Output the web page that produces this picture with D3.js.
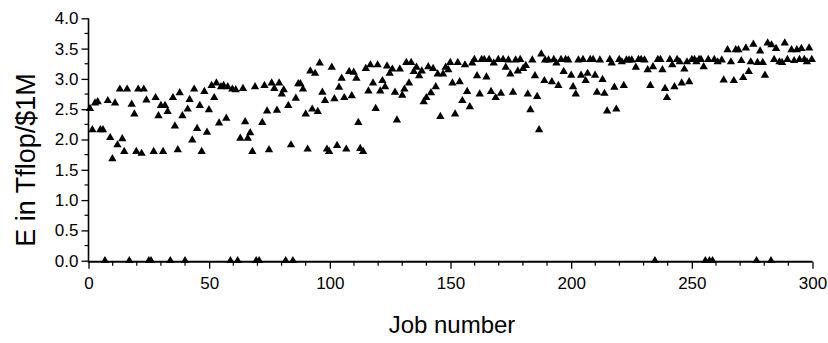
<!DOCTYPE html>
<html>
<head>
<meta charset="utf-8">
<script src="https://cdn.jsdelivr.net/npm/d3@7"></script>
<style>
  html, body { margin: 0; padding: 0; background: #fff; }
  svg { display: block; }
  text { font-family: "Liberation Sans", Arial, Helvetica, sans-serif; fill: #000; }
</style>
</head>
<body>
<svg id="chart" width="828" height="343"></svg>
<script>
// ---- data ----
const jobNumbers = [
  0.6,1.6,2.7,3.8,4.9,6.0,6.8,8.0,9.0,9.9,11.0,12.0,13.0,14.0,14.8,16.0,16.9,17.9,19.0,19.8,
  20.6,22.0,22.9,24.0,25.0,25.9,27.0,27.8,29.0,30.0,30.9,31.7,32.8,33.9,35.0,35.8,37.0,37.8,38.9,40.0,
  41.1,41.9,43.0,43.8,45.0,46.1,46.9,48.0,49.1,49.9,51.0,52.1,53.0,54.1,54.9,56.0,57.1,57.7,58.8,59.6,
  61.0,61.8,62.9,64.0,64.9,66.0,67.0,67.9,69.0,69.5,70.7,72.0,72.9,74.0,74.8,75.9,77.0,78.1,79.0,80.1,
  80.9,81.7,82.8,83.9,84.7,85.9,86.9,87.8,88.9,90.0,90.8,91.9,92.7,93.9,95.0,95.8,96.9,98.0,98.8,99.7,
  100.8,101.9,103.0,103.8,104.9,106.0,106.8,108.0,109.1,109.9,111.0,111.8,112.6,113.8,114.9,116.0,116.8,117.9,119.0,119.8,
  120.9,121.8,122.9,123.7,124.8,125.9,127.0,127.8,129.0,130.0,130.9,131.7,132.8,133.7,134.8,135.9,137.0,138.1,138.9,140.0,
  140.8,141.9,142.8,143.9,144.7,145.8,146.9,148.0,149.1,149.9,150.8,151.9,153.0,153.8,154.9,156.0,156.9,158.0,159.0,159.9,
  161.0,162.1,162.9,164.0,164.9,166.0,166.8,167.9,168.7,169.8,170.9,171.8,172.9,174.0,174.8,175.9,177.0,177.9,178.9,180.1,
  181.2,182.0,183.1,183.9,185.0,185.9,186.7,187.6,188.9,189.2,190.6,192.0,192.8,193.9,194.7,195.8,196.9,197.7,198.8,200.0,
  200.8,201.9,203.0,204.1,204.9,206.0,206.8,207.9,209.1,209.9,210.7,211.9,213.0,213.8,214.9,216.0,216.8,217.9,218.7,219.9,
  221.0,221.8,222.9,224.0,225.1,226.8,227.9,229.0,230.4,231.7,232.8,233.9,234.7,235.9,237.0,237.8,238.9,239.7,240.9,241.9,
  242.8,243.9,245.0,245.8,246.9,248.0,248.9,250.0,251.1,251.9,253.0,253.8,254.9,255.6,256.8,257.3,258.6,259.3,260.7,262.4,
  263.2,264.8,266.2,267.4,268.2,269.3,270.5,271.3,272.4,273.6,274.4,275.5,276.8,277.2,278.3,279.4,280.3,281.4,282.8,283.0,
  284.1,284.9,286.3,287.4,288.5,289.6,291.3,292.4,293.5,294.6,295.4,296.6,297.7,298.6,299.7
];
const efficiency = [
  2.51,2.16,2.60,2.62,2.16,2.16,0,2.64,2.03,1.68,2.60,1.91,2.83,2.01,1.80,2.83,0,2.58,2.42,1.80,
  2.83,1.77,2.83,2.65,0,0,1.80,2.69,2.39,2.56,1.80,2.56,2.46,0,2.69,2.22,1.83,2.77,2.39,0,
  2.50,2.66,1.99,2.83,2.18,2.56,1.80,2.79,2.12,2.49,2.89,2.69,2.93,2.27,2.87,2.89,2.35,2.87,0,2.83,
  2.82,0,2.02,2.84,2.29,2.02,2.11,1.80,2.87,0,0,2.28,2.89,2.47,1.83,2.93,2.84,2.48,2.93,2.75,
  2.82,0,2.56,1.91,0,2.68,2.92,2.92,2.83,2.42,1.84,3.13,2.50,3.09,2.46,3.26,2.78,2.64,1.84,1.80,
  3.19,2.67,1.90,2.86,3.01,2.69,1.84,3.12,2.72,3.11,3.01,2.28,1.85,1.80,3.17,2.80,3.23,2.93,2.51,3.23,
  2.80,2.97,2.87,3.21,3.09,3.16,2.78,2.32,3.16,2.73,2.83,3.27,2.93,3.27,3.12,3.19,3.05,3.13,2.62,2.69,
  3.20,2.77,3.17,2.87,3.08,2.38,3.08,3.19,3.15,3.27,2.93,2.42,3.27,2.95,2.64,3.23,2.79,2.54,3.26,3.32,
  3.05,2.75,3.32,3.32,3.03,3.32,2.79,3.26,2.69,3.32,2.76,3.32,3.19,3.31,3.08,2.78,3.31,3.13,3.32,3.17,
  3.22,2.75,2.49,3.31,3.05,2.71,2.16,3.41,2.97,3.31,3.31,2.95,3.32,3.26,2.89,3.32,3.12,3.32,3.31,3.06,
  2.87,2.75,3.31,3.06,3.32,2.97,3.09,3.32,3.32,3.06,2.78,3.31,2.99,2.76,2.47,3.32,3.26,2.86,2.50,3.32,
  3.28,2.89,3.31,3.31,3.31,3.19,3.32,3.32,3.31,3.15,2.89,3.20,0,3.32,3.32,3.15,2.84,2.69,3.32,3.23,
  2.87,3.32,3.28,2.93,3.16,3.28,2.95,3.32,3.32,3.28,3.32,3.32,3.20,0,3.32,0,0,3.32,3.28,3.31,
  2.98,3.48,3.28,2.97,3.48,3.48,3.30,3.02,3.51,3.12,3.28,3.57,0,3.27,3.46,3.27,3.06,3.59,0,3.56,
  3.32,3.50,3.28,3.27,3.59,3.32,3.48,3.30,3.48,3.32,3.50,3.32,3.28,3.51,3.32
];
const xTickValues = [0, 50, 100, 150, 200, 250, 300];
const yTickValues = [0.0, 0.5, 1.0, 1.5, 2.0, 2.5, 3.0, 3.5, 4.0];
const xLabel = "Job number";
const yLabel = "E in Tflop/$1M";

// ---- drawing ----
const svg = d3.select("#chart");
const x = d3.scaleLinear().domain([0, 300]).range([88.5, 812.5]);
const y = d3.scaleLinear().domain([0, 4]).range([260.7, 18.3]);

const points = jobNumbers.map((j, i) => ({ j, e: efficiency[i] }));

const xMinor = d3.range(0, 301, 10).filter(v => v % 50 !== 0);
const yMinor = d3.range(0.25, 4.0, 0.5);

const gx = svg.append("g").attr("transform", `translate(0,${y(0) + 1})`);
gx.call(d3.axisBottom(x).tickValues(xTickValues).tickFormat(d3.format("d")).tickSize(7).tickPadding(8));
gx.append("g").selectAll("line").data(xMinor).join("line")
  .attr("x1", d => x(d)).attr("x2", d => x(d)).attr("y1", 0).attr("y2", 4)
  .attr("stroke", "#000").attr("stroke-width", 1.2);
gx.select(".domain").attr("d", `M${x(0)},0H${x(300)}`).attr("stroke-width", 2);
gx.selectAll(".tick line").attr("stroke-width", 1.3);
gx.selectAll(".tick text").attr("font-size", 17).attr("font-family", "Liberation Sans, Arial, sans-serif");

const gy = svg.append("g").attr("transform", `translate(${x(0)},0)`);
gy.call(d3.axisLeft(y).tickValues(yTickValues).tickFormat(d3.format(".1f")).tickSize(7).tickPadding(3));
gy.append("g").selectAll("line").data(yMinor).join("line")
  .attr("x1", 0).attr("x2", -4).attr("y1", d => y(d)).attr("y2", d => y(d))
  .attr("stroke", "#000").attr("stroke-width", 1.2);
gy.select(".domain").attr("d", `M0,${y(4)}V${y(0) + 2}`).attr("stroke-width", 1.6);
gy.selectAll(".tick line").attr("stroke-width", 1.3);
gy.selectAll(".tick text").attr("font-size", 17).attr("font-family", "Liberation Sans, Arial, sans-serif");

// points
const tri = d3.symbol().type(d3.symbolTriangle).size(30);
svg.append("g").selectAll("path").data(points).join("path")
  .attr("d", tri)
  .attr("transform", d => `translate(${x(d.j)},${y(d.e)})`)
  .attr("fill", "#000");

// axis titles
svg.append("text")
  .attr("x", 452).attr("y", 333)
  .attr("text-anchor", "middle")
  .attr("font-size", 24)
  .text(xLabel);

svg.append("text")
  .attr("transform", `translate(35,160) rotate(-90)`)
  .attr("text-anchor", "middle")
  .attr("font-size", 27)
  .text(yLabel);
</script>
</body>
</html>
